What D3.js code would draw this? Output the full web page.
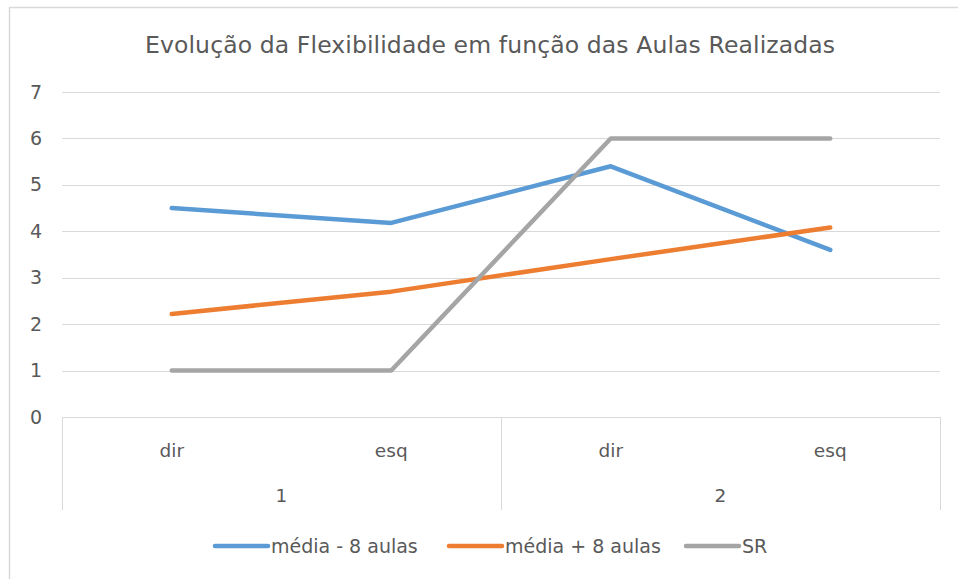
<!DOCTYPE html>
<html>
<head>
<meta charset="utf-8">
<script src="https://cdn.jsdelivr.net/npm/d3@7"></script>
<style>
  body { margin: 0; background: #fff; }
  text { font-family: "DejaVu Sans", sans-serif; fill: #595959; }
</style>
</head>
<body>
<div id="chart"></div>
<script>
// Data
const groups = ["1", "2"];
const sides = ["dir", "esq", "dir", "esq"];
const seriesNames = ["média - 8 aulas", "média + 8 aulas", "SR"];
const mediaMenos = [4.5, 4.18, 5.4, 3.6];
const mediaMais = [2.22, 2.7, 3.4, 4.08];
const sr = [1, 1, 6, 6];
const yTicks = [0, 1, 2, 3, 4, 5, 6, 7];
const colors = ["#5B9BD5", "#ED7D31", "#A5A5A5"];

const W = 958, H = 579;
const margin = {top: 92, right: 18, bottom: 162, left: 62},
    width = W - margin.left - margin.right,
    height = H - margin.top - margin.bottom;

const root = d3.select("#chart")
  .append("svg")
    .attr("width", W)
    .attr("height", H);

// chart border
root.append("rect")
  .attr("x", 9.5).attr("y", 7.5)
  .attr("width", 1000).attr("height", 1000)
  .attr("fill", "none")
  .attr("stroke", "#d9d9d9")
  .attr("stroke-width", 1.5);

// Title
root.append("text")
  .attr("x", 490).attr("y", 53)
  .attr("text-anchor", "middle")
  .attr("textLength", 690)
  .attr("lengthAdjust", "spacing")
  .style("font-size", "23.5px")
  .text("Evolução da Flexibilidade em função das Aulas Realizadas");

const svg = root.append("g")
  .attr("transform", `translate(${margin.left},${margin.top})`);

// Scales
const x = d3.scaleBand()
  .domain(d3.range(sides.length))
  .range([0, width]);
const xg = d3.scaleBand()
  .domain(groups)
  .range([0, width]);
const y = d3.scaleLinear()
  .domain([0, 7])
  .range([height, 0]);

// Gridlines
svg.append("g")
  .selectAll("line")
  .data(yTicks.filter(d => d > 0))
  .join("line")
    .attr("x1", 0).attr("x2", width)
    .attr("y1", d => Math.round(y(d)) + 0.5)
    .attr("y2", d => Math.round(y(d)) + 0.5)
    .attr("stroke", "#d9d9d9")
    .attr("stroke-width", 1);

// Y axis labels
svg.append("g")
  .call(d3.axisLeft(y).tickValues(yTicks).tickFormat(d3.format("d")).tickSize(0).tickPadding(20))
  .call(g => g.select(".domain").remove())
  .call(g => g.attr("font-family", null).attr("font-size", null))
  .selectAll("text")
    .style("font-size", "19px")
    .attr("fill", "#595959");

// X axis line and group dividers
const axisG = svg.append("g");
axisG.append("line")
  .attr("x1", 0).attr("x2", width)
  .attr("y1", height + 0.5).attr("y2", height + 0.5)
  .attr("stroke", "#d9d9d9");
axisG.selectAll(".div")
  .data([0, ...groups.map(g => xg(g) + xg.bandwidth())])
  .join("line")
    .attr("class", "div")
    .attr("x1", d => d + 0.5).attr("x2", d => d + 0.5)
    .attr("y1", height).attr("y2", height + 93)
    .attr("stroke", "#d9d9d9");

// Category labels
axisG.selectAll(".cat")
  .data(sides)
  .join("text")
    .attr("class", "cat")
    .attr("x", (d, i) => x(i) + x.bandwidth() / 2)
    .attr("y", height + 40)
    .attr("text-anchor", "middle")
    .style("font-size", "18.5px")
    .text(d => d);

axisG.selectAll(".grp")
  .data(groups)
  .join("text")
    .attr("class", "grp")
    .attr("x", d => xg(d) + xg.bandwidth() / 2)
    .attr("y", height + 85)
    .attr("text-anchor", "middle")
    .style("font-size", "18.5px")
    .text(d => d);

// Lines
const series = [mediaMenos, mediaMais, sr];
const line = d3.line()
  .x((d, i) => x(i) + x.bandwidth() / 2)
  .y(d => y(d));

svg.selectAll(".series")
  .data(series)
  .join("path")
    .attr("class", "series")
    .attr("d", d => line(d))
    .attr("fill", "none")
    .attr("stroke", (d, i) => colors[i])
    .attr("stroke-width", 4.5)
    .attr("stroke-linecap", "round")
    .attr("stroke-linejoin", "round");

// Legend
const legendX = [215, 449, 686];
const legend = root.append("g")
  .selectAll("g")
  .data(seriesNames)
  .join("g")
    .attr("transform", (d, i) => `translate(${legendX[i]},546)`);
legend.append("line")
  .attr("x1", 0).attr("x2", 53)
  .attr("stroke", (d, i) => colors[i])
  .attr("stroke-width", 4.5)
  .attr("stroke-linecap", "round");
legend.append("text")
  .attr("x", 56).attr("y", 7)
  .style("font-size", "19px")
  .text(d => d);
</script>
</body>
</html>
